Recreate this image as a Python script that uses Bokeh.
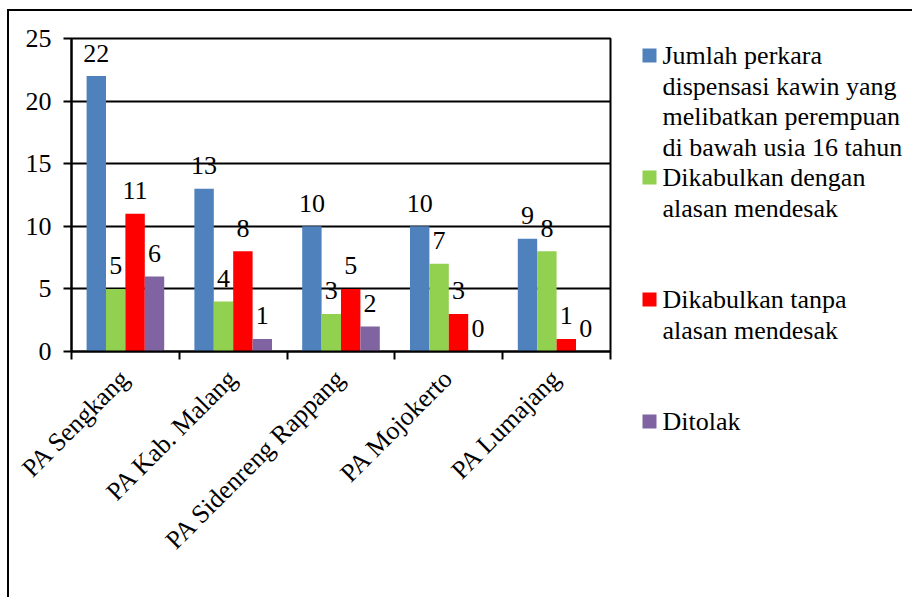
import math
from bokeh.plotting import figure
from bokeh.layouts import row
from bokeh.models import Range1d, FixedTicker, ColumnDataSource
from bokeh.transform import dodge
from bokeh.embed import file_html
from bokeh.resources import INLINE
from bokeh.core.properties import value

# ---- data ----
categories = ["PA Sengkang", "PA Kab. Malang", "PA Sidenreng Rappang", "PA Mojokerto", "PA Lumajang"]
jumlah = [22, 13, 10, 10, 9]
dikabulkan_mendesak = [5, 4, 3, 7, 8]
dikabulkan_tanpa = [11, 8, 5, 3, 1]
ditolak = [6, 1, 2, 0, 0]
series_names = [
    "Jumlah perkara\ndispensasi kawin yang\nmelibatkan perempuan\ndi bawah usia 16 tahun",
    "Dikabulkan dengan\nalasan mendesak",
    "Dikabulkan tanpa\nalasan mendesak",
    "Ditolak",
]
colors = ["#4F81BD", "#92D050", "#FF0000", "#8064A2"]
y_ticks = [0, 5, 10, 15, 20, 25]

FONT = "Liberation Serif"
FS = "26px"

centers = [i + 0.5 for i in range(len(categories))]

# ---------------- main chart ----------------
p = figure(width=625, height=588, output_backend="svg", toolbar_location=None,
           x_range=Range1d(0, len(categories)), y_range=Range1d(0, 25),
           min_border_left=62, min_border_top=27, min_border_right=24,
           min_border_bottom=248)
p.background_fill_color = "white"
p.border_fill_color = "white"
p.outline_line_color = "black"
p.outline_line_width = 2

src = ColumnDataSource(dict(x=centers, s0=jumlah, s1=dikabulkan_mendesak,
                            s2=dikabulkan_tanpa, s3=ditolak))
offsets = [-0.27, -0.09, 0.09, 0.27]
bw = 0.18
for k in range(4):
    col = "s%d" % k
    p.vbar(x=dodge("x", offsets[k], range=p.x_range), top=col, width=bw, source=src,
           fill_color=colors[k], line_color=None)
    p.text(x=dodge("x", offsets[k], range=p.x_range), y=col, text=col, source=src,
           text_font=value(FONT), text_font_size=FS, text_color="black",
           text_align="center", text_baseline="alphabetic", y_offset=-23)

xa = p.xaxis[0]
xa.ticker = FixedTicker(ticks=centers, minor_ticks=list(range(len(categories) + 1)))
xa.major_label_overrides = {c: n for c, n in zip(centers, categories)}
xa.major_tick_out = 0
xa.major_tick_in = 0
xa.minor_tick_out = 8
xa.minor_tick_in = 0
xa.minor_tick_line_color = "black"
xa.minor_tick_line_width = 2
xa.axis_line_color = "black"
xa.axis_line_width = 2
xa.major_label_orientation = math.pi / 4
xa.major_label_standoff = 14
xa.major_label_text_font = FONT
xa.major_label_text_font_size = FS
xa.major_label_text_color = "black"

ya = p.yaxis[0]
ya.ticker = FixedTicker(ticks=y_ticks)
ya.major_tick_out = 8
ya.major_tick_in = 0
ya.minor_tick_line_color = None
ya.major_tick_line_color = "black"
ya.major_tick_line_width = 2
ya.axis_line_color = "black"
ya.axis_line_width = 2
ya.major_label_standoff = 12
ya.major_label_text_font = FONT
ya.major_label_text_font_size = FS
ya.major_label_text_color = "black"

p.xgrid.grid_line_color = None
p.ygrid.grid_line_color = "black"
p.ygrid.grid_line_width = 2
p.ygrid.ticker = FixedTicker(ticks=y_ticks)

# ---------------- legend panel (pixel space, y downwards) ----------------
LW, LH = 280, 588
lg = figure(width=LW, height=LH, output_backend="svg", toolbar_location=None,
            x_range=Range1d(0, LW), y_range=Range1d(LH, 0),
            x_axis_type=None, y_axis_type=None, min_border=0)
lg.outline_line_color = None
lg.grid.visible = False
lg.background_fill_color = "white"
lg.border_fill_color = "white"
for fig in (p, lg):
    try:
        fig.frame_align = False
    except AttributeError:
        pass

slot_rows = [0, 4, 8, 12]      # legend row of each entry
row0, row_h = 44, 30.5         # first row centre and row pitch (px)
sq_x, sq_size, txt_x = 15, 14, 28
sx, sy, sc = [], [], []
tx, ty, tt = [], [], []
for k, name in enumerate(series_names):
    r0 = slot_rows[k]
    sx.append(sq_x)
    sy.append(row0 + r0 * row_h)
    sc.append(colors[k])
    for j, line in enumerate(name.split("\n")):
        tx.append(txt_x)
        ty.append(row0 + (r0 + j) * row_h)
        tt.append(line)
lg.rect(x=sx, y=sy, width=sq_size, height=sq_size, fill_color=sc, line_color=None)
lg.text(x=tx, y=ty, text=tt, text_font=value(FONT), text_font_size=FS,
        text_color="black", text_align="left", text_baseline="middle")

layout = row(p, lg, spacing=0, margin=(11, 0, 0, 9),
             styles={"box-shadow": "-2px -2px 0 0 black"})

open("out.html", "w").write(file_html(layout, INLINE))
